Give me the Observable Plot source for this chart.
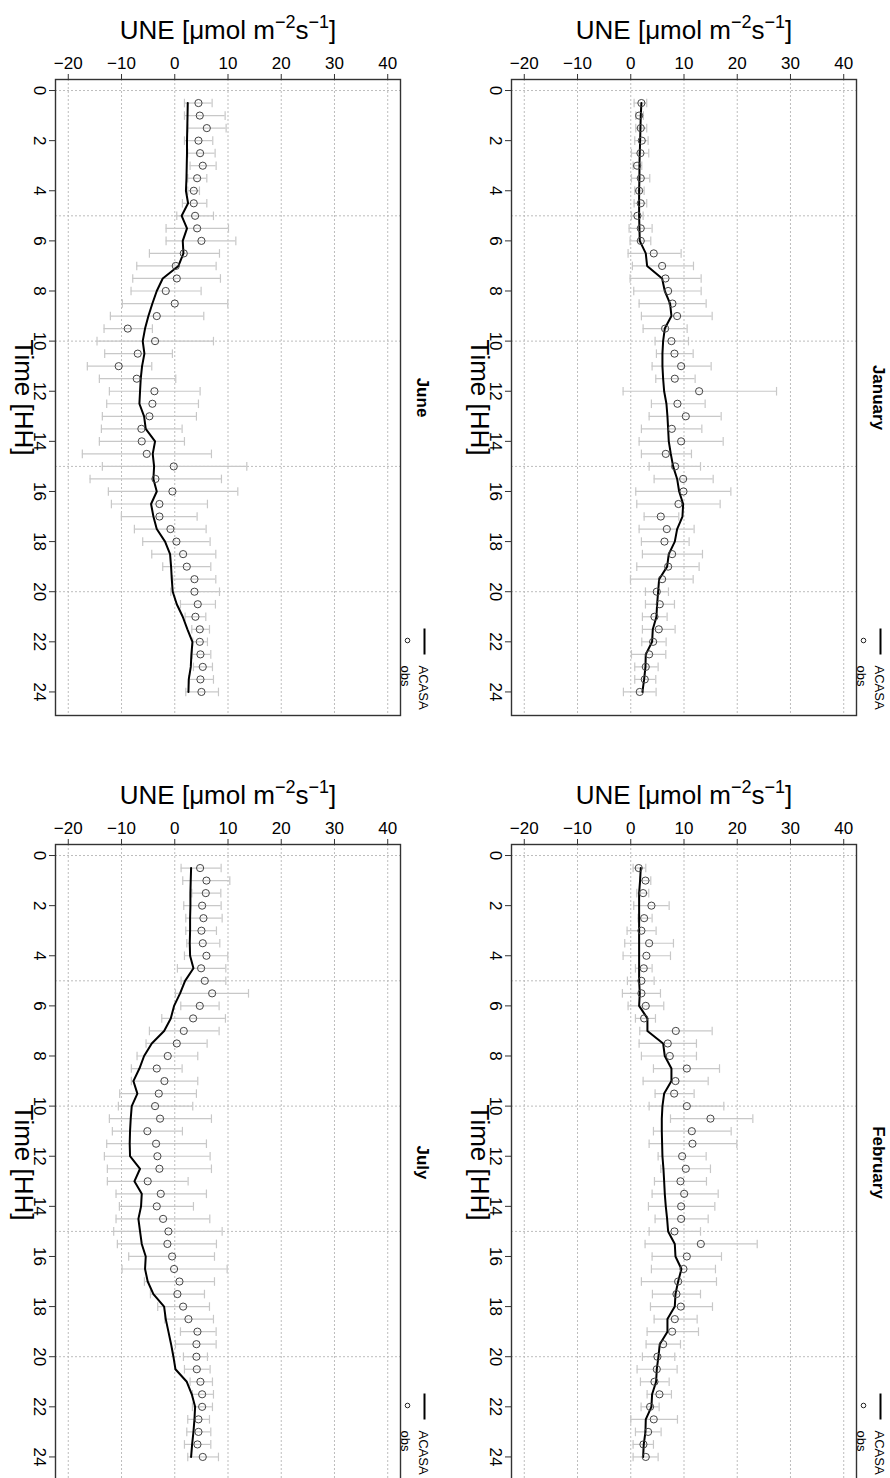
<!DOCTYPE html>
<html><head><meta charset="utf-8">
<script src="https://cdn.jsdelivr.net/npm/d3@7"></script>
<script src="https://cdn.jsdelivr.net/npm/@observablehq/plot@0.6"></script>
<style>
body{margin:0;background:#fff;}
#wrap{position:relative;width:890px;height:1478px;overflow:hidden;background:#fff;}
#wrap svg{position:absolute;}
</style></head><body><div id="wrap"></div>
<script>
const hours = [0.5,1,1.5,2,2.5,3,3.5,4,4.5,5,5.5,6,6.5,7,7.5,8,8.5,9,9.5,10,10.5,11,11.5,12,12.5,13,13.5,14,14.5,15,15.5,16,16.5,17,17.5,18,18.5,19,19.5,20,20.5,21,21.5,22,22.5,23,23.5,24];
const xTicks = [-20,-10,0,10,20,30,40];
const yTicks = [0,2,4,6,8,10,12,14,16,18,20,22,24];
const yGrid = [0,5,10,15,20];
const xLabel = "UNE [μmol m−2s−1]";
const yLabel = "Time [HH]";
const legendLabels = ["ACASA","obs"];

const janObs = [2.0,1.57,1.88,2.07,1.82,1.19,1.88,1.57,1.88,1.25,1.88,1.88,4.32,5.89,6.52,7.02,7.83,8.71,6.45,7.64,8.21,9.46,8.27,12.84,8.77,10.34,7.71,9.46,6.58,8.33,9.84,9.90,8.96,5.64,6.77,6.33,7.77,7.02,5.89,4.89,5.45,4.45,5.26,4.20,3.45,2.82,2.63,1.69];
const janLo = [0.63,0.94,0.94,0.75,0.13,0.44,0.13,0.75,0.63,0.13,-0.31,-0.13,-0.5,0.31,-0.13,0.56,1.57,2.0,2.32,4.57,4.82,4.01,4.70,-1.44,3.88,3.45,2.0,1.57,2.0,3.45,4.39,0.94,1.13,2.51,1.57,2.0,2.19,1.13,-0.06,2.76,2.76,2.19,2.19,2.07,0.13,0.75,0.75,-1.38];
const janHi = [3.0,2.38,3.0,3.26,3.38,2.07,3.57,2.51,3.0,2.32,4.01,3.76,9.46,11.78,13.22,13.22,14.16,15.29,10.59,10.84,11.72,15.10,12.09,27.38,13.97,16.98,13.35,17.36,11.40,13.10,15.48,18.80,16.79,9.02,11.90,10.96,13.47,12.84,11.72,7.08,8.21,6.83,8.33,6.64,6.58,5.14,4.70,4.76];
const janModel = [2.0,1.88,1.82,1.76,1.69,1.63,1.63,1.57,1.57,1.57,1.63,1.69,2.82,3.07,5.89,6.39,7.39,7.64,6.39,6.08,5.95,5.95,6.08,6.27,6.70,6.89,7.02,7.14,7.52,7.96,8.71,9.09,9.84,9.71,8.71,8.27,7.14,6.83,5.33,5.14,4.95,4.82,4.14,4.01,2.82,2.76,2.51,2.19];

const febObs = [1.50,2.76,2.32,3.88,2.51,2.0,3.45,2.94,2.44,2.0,2.0,2.82,2.51,8.46,6.95,7.33,10.53,8.40,8.15,10.53,14.97,11.47,11.59,9.65,10.34,9.34,10.03,9.46,9.46,8.21,13.16,10.53,9.90,8.90,8.58,9.40,8.27,7.77,6.08,5.01,4.89,4.45,5.39,3.63,4.32,3.26,2.38,2.82];
const febLo = [0.44,1.75,1.13,0.56,1.38,-0.69,-1.13,-1.44,0.88,-0.63,-1.57,-0.5,0.88,1.69,1.57,2.0,4.26,2.32,4.57,3.45,7.46,4.26,3.45,5.14,5.64,4.45,4.01,3.32,4.57,3.45,2.69,4.01,3.88,2.0,4.07,3.70,4.39,3.07,2.88,2.19,1.19,1.82,3.07,1.94,0,0.88,0.44,0.44];
const febHi = [2.82,3.76,3.38,7.21,4.01,4.76,8.02,7.46,4.01,4.39,5.58,6.20,4.64,15.29,12.34,12.34,16.67,14.54,11.90,17.48,22.93,18.86,19.92,14.16,14.97,14.22,16.42,15.79,14.54,13.10,23.75,17.04,15.91,16.10,13.10,15.35,12.47,12.72,9.34,8.27,8.71,7.21,7.64,5.33,8.77,5.70,4.26,5.14];
const febModel = [1.88,1.75,1.57,1.57,1.57,1.57,1.57,1.57,1.57,1.57,1.69,1.57,3.13,3.13,6.08,6.39,7.64,7.64,6.27,5.95,5.83,5.83,5.89,5.95,6.14,6.27,6.39,6.58,6.83,7.02,8.27,8.40,9.52,8.90,8.40,8.27,6.89,6.89,5.45,5.20,4.89,4.76,4.01,3.88,2.82,2.76,2.44,2.32];

const junObs = [4.45,4.70,6.02,4.45,4.76,5.26,4.20,3.57,3.57,3.82,4.20,5.01,1.69,0.19,0.38,-1.69,0,-3.38,-8.83,-3.70,-6.95,-10.53,-7.14,-3.82,-4.20,-4.76,-6.27,-6.20,-5.26,-0.19,-3.63,-0.44,-2.88,-2.88,-0.81,0.31,1.57,2.26,3.70,3.70,4.32,3.88,4.70,4.70,4.82,5.26,4.82,5.01];
const junLo = [1.82,1.82,2.44,1.82,2.44,2.88,2.44,2.44,1.44,0.38,-1.63,-1.63,-4.76,-7.14,-7.89,-8.21,-9.84,-12.09,-13.28,-14.60,-13.16,-16.42,-14.16,-12.28,-12.78,-13.60,-13.78,-14.16,-17.36,-13.60,-15.91,-12.47,-11.90,-10.03,-7.58,-6.02,-4.32,-2.26,-0.38,-0.75,1.07,1.94,3.20,3.38,3.26,3.51,2.63,2.07];
const junHi = [7.02,9.46,9.65,7.14,7.58,7.77,6.02,4.64,6.02,7.27,10.09,11.47,8.40,7.77,8.58,4.95,9.96,5.45,-4.20,7.27,-0.44,-4.32,0.19,4.76,4.45,4.07,1.38,1.82,6.89,13.53,8.77,11.84,6.14,4.20,5.89,6.64,7.71,6.77,7.71,8.40,7.64,5.83,6.52,6.14,6.77,7.08,7.27,8.21];
const junModel = [2.44,2.4,2.35,2.3,2.3,2.25,2.2,2.1,2.5,1.3,2.3,1.5,1.63,0.69,-2.26,-3.38,-4.2,-4.95,-5.58,-6.02,-5.7,-6.14,-6.39,-6.52,-6.64,-5.76,-5.45,-3.70,-4.14,-3.88,-4.01,-3.38,-4.45,-4.01,-3.38,-1.82,-0.88,-0.69,-0.56,-0.38,0.38,1.50,2.38,3.32,3.13,3.01,2.63,2.57];

const julObs = [4.76,5.95,5.83,5.14,5.39,5.01,5.26,5.95,4.95,5.64,7.02,4.70,3.45,1.69,0.38,-1.32,-3.38,-1.94,-3.0,-3.70,-2.76,-5.14,-3.51,-3.26,-2.88,-5.08,-2.63,-3.38,-2.19,-1.19,-1.38,-0.50,-0.13,0.88,0.50,1.57,2.57,4.26,4.07,4.07,4.14,4.82,5.14,5.14,4.45,4.45,4.26,5.26];
const julLo = [1.19,1.50,3.20,1.69,2.07,2.07,2.26,1.82,0.50,1.19,0.13,1.13,-2.44,-4.76,-5.39,-7.08,-8.15,-8.15,-10.34,-10.59,-12.28,-11.72,-12.78,-13.22,-12.66,-12.66,-11.03,-10.40,-11.03,-11.47,-10.78,-8.65,-9.90,-5.70,-4.57,-3.20,-1.88,1.07,0.13,1.63,1.82,2.88,3.32,3.32,2.44,2.26,1.82,2.44];
const julHi = [8.71,10.34,8.65,8.71,8.90,7.83,8.46,9.96,9.59,9.59,13.85,8.33,9.52,8.33,6.08,4.32,1.38,4.32,4.07,3.38,6.89,1.44,5.95,6.64,6.89,2.51,5.95,3.51,6.58,8.90,7.83,7.46,9.84,7.46,5.58,6.52,7.27,7.77,7.77,6.14,6.64,7.08,7.27,7.08,6.52,6.77,6.77,8.21];
const julModel = [3.07,3.0,2.94,2.94,2.88,2.88,2.82,2.88,3.51,1.94,1.0,-0.13,-0.75,-2.0,-4.32,-5.76,-6.64,-7.77,-7.02,-8.08,-8.27,-8.40,-8.46,-8.40,-6.52,-7.58,-6.20,-6.33,-6.83,-6.52,-6.20,-5.45,-5.58,-5.08,-4.01,-2.0,-1.69,-1.19,-0.69,-0.25,0.13,2.26,3.20,3.82,3.70,3.51,3.26,3.07];

const panels = [
  {name: "January", obs: janObs, lo: janLo, hi: janHi, model: janModel, left: 456, top: 0},
  {name: "February", obs: febObs, lo: febLo, hi: febHi, model: febModel, left: 456, top: 765},
  {name: "June", obs: junObs, lo: junLo, hi: junHi, model: junModel, left: 0, top: 0},
  {name: "July", obs: julObs, lo: julLo, hi: julHi, model: julModel, left: 0, top: 765}
];

const vbar = (h) => ({draw(ctx) { ctx.moveTo(0, -h); ctx.lineTo(0, h); }});
const FONT = "'Liberation Sans', Arial, Helvetica, sans-serif";
const wrap = document.getElementById("wrap");

for (const p of panels) {
  const rows = hours.map((t, i) => ({t, obs: p.obs[i], lo: p.lo[i], hi: p.hi[i], model: p.model[i]}));
  const svg = Plot.plot({
    width: 445, height: 740,
    marginTop: 79, marginLeft: 55, marginRight: 45, marginBottom: 25,
    x: {domain: [-22.4, 42.4]},
    y: {domain: [-0.44, 24.94], reverse: true},
    style: {fontFamily: FONT, fontSize: "17px", color: "#000", background: "#fff"},
    marks: [
      Plot.gridX(xTicks, {stroke: "#bdbdbd", strokeOpacity: 1, strokeDasharray: "2,2"}),
      Plot.gridY(yGrid, {stroke: "#bdbdbd", strokeOpacity: 1, strokeDasharray: "2,2"}),
      Plot.axisX(xTicks, {anchor: "top", tickSize: 6, tickPadding: 5, label: null, stroke: "#333"}),
      Plot.axisY(yTicks, {anchor: "left", tickSize: 6, tickPadding: 3, tickRotate: 90, label: null, stroke: "#333"}),
      Plot.ruleY(rows, {y: "t", x1: "lo", x2: "hi", stroke: "#c8c8c8", strokeWidth: 1.2}),
      Plot.dot(rows, {x: "lo", y: "t", symbol: vbar(4.3), fill: "none", stroke: "#c8c8c8", strokeWidth: 1.2}),
      Plot.dot(rows, {x: "hi", y: "t", symbol: vbar(4.3), fill: "none", stroke: "#c8c8c8", strokeWidth: 1.2}),
      Plot.line(rows, {x: "model", y: "t", stroke: "#000", strokeWidth: 2}),
      Plot.dot(rows, {x: "obs", y: "t", r: 3.6, fill: "none", stroke: "#444", strokeWidth: 1}),
      Plot.frame({stroke: "#333", strokeWidth: 1.4}),
      Plot.text([xLabel], {frameAnchor: "top", dy: -41, textAnchor: "middle", lineAnchor: "bottom", fontSize: 26}),
      Plot.text([yLabel], {frameAnchor: "left", dx: -40.5, rotate: 90, textAnchor: "middle", lineAnchor: "bottom", fontSize: 26}),
      Plot.text([p.name], {frameAnchor: "right", dx: 16, rotate: 90, textAnchor: "middle", lineAnchor: "bottom", fontSize: 17, fontWeight: "bold"}),
      Plot.dot([legendLabels[0]], {frameAnchor: "bottom-right", dx: 24, dy: -74, symbol: vbar(13), fill: "none", stroke: "#000", strokeWidth: 2}),
      Plot.dot([legendLabels[1]], {frameAnchor: "bottom-right", dx: 7, dy: -75, r: 2.3, fill: "none", stroke: "#222", strokeWidth: 1}),
      Plot.text([legendLabels[0]], {frameAnchor: "bottom-right", dx: 18.7, dy: -50, rotate: 90, textAnchor: "start", lineAnchor: "bottom", fontSize: 13}),
      Plot.text([legendLabels[1]], {frameAnchor: "bottom-right", dx: 0.5, dy: -50, rotate: 90, textAnchor: "start", lineAnchor: "bottom", fontSize: 13})
    ]
  });
  svg.style.left = p.left + "px";
  svg.style.top = p.top + "px";
  // superscripts in the UNE label
  svg.querySelectorAll("text").forEach(t => {
    if (t.textContent === xLabel) {
      t.innerHTML = 'UNE [μmol m<tspan dy="-11" font-size="18">−2</tspan><tspan dy="11">s</tspan><tspan dy="-11" font-size="18">−1</tspan><tspan dy="11">]</tspan>';
    }
  });
  wrap.appendChild(svg);
}
</script>
</body></html>
